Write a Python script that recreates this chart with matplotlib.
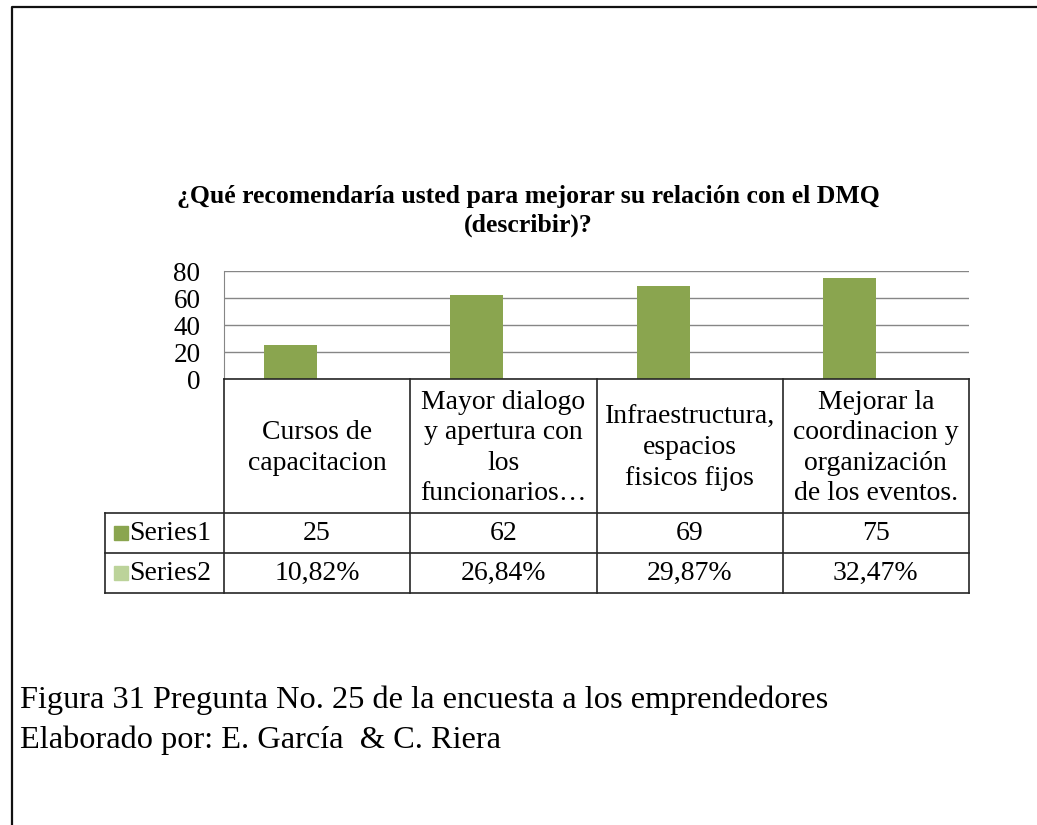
import matplotlib
matplotlib.use("Agg")
import matplotlib.pyplot as plt
from matplotlib.lines import Line2D
from matplotlib.patches import Rectangle

plt.rcParams['font.family'] = ['Liberation Serif', 'DejaVu Serif']

# data
categories = ["Cursos de\ncapacitacion",
              "Mayor dialogo\ny apertura con\nlos\nfuncionarios…",
              "Infraestructura,\nespacios\nfisicos fijos",
              "Mejorar la\ncoordinacion y\norganización\nde los eventos."]
series1 = [25, 62, 69, 75]
series2 = [10.82, 26.84, 29.87, 32.47]   # percent, plotted as fractions
series_names = ["Series1", "Series2"]
yticks = [0, 20, 40, 60, 80]
title = "¿Qué recomendaría usted para mejorar su relación con el DMQ\n(describir)?"
caption1 = "Figura 31 Pregunta No. 25 de la encuesta a los emprendedores"
caption2 = "Elaborado por: E. García  & C. Riera"

c1 = '#8aa54f'
c2 = '#bcd39a'
W, H = 1037, 825
fig = plt.figure(figsize=(W / 100, H / 100), dpi=100)

def fx(x): return x / W
def fy(y): return 1 - y / H

# page border (top and left only visible)
fig.add_artist(Line2D([fx(12), fx(12), fx(W)], [fy(H), fy(6.5), fy(6.5)],
                      transform=fig.transFigure, color='#111111', lw=1.6))

# chart area
L, R, T, B = 224, 969, 271, 379
ax = fig.add_axes([fx(L), fy(B), fx(R - L), (B - T) / H])
n = len(categories)
bw = 0.285
xs = [i + 0.5 for i in range(n)]
ax.bar([x - bw / 2 for x in xs], series1, width=bw, color=c1, zorder=3)
ax.bar([x + bw / 2 for x in xs], [v / 100 for v in series2], width=bw, color=c2, zorder=3)
ax.set_xlim(0, n)
ax.set_ylim(0, 80)
ax.set_yticks(yticks)
ax.set_xticks([])
ax.yaxis.grid(True, color='#868686', lw=1.0)
ax.set_axisbelow(True)
for s in ['top', 'right', 'bottom']:
    ax.spines[s].set_visible(False)
ax.spines['left'].set_color('#868686')
ax.tick_params(axis='y', length=0, pad=17, labelsize=19.5)

t1, t2 = title.split("\n")
fig.text(fx(528), fy(196), t1, ha='center', va='center', fontsize=18.5, fontweight='bold')
fig.text(fx(528), fy(225), t2, ha='center', va='center', fontsize=18.5, fontweight='bold')

# data table below the chart
TL, TB = 105, 593
rows = [513, 553, 593]
tab = fig.add_axes([fx(TL), fy(TB), fx(R - TL), (TB - B) / H])
tab.set_xlim(TL, R)
tab.set_ylim(TB, B)
tab.axis('off')
lc = '#262626'
colw = (R - L) / n
edges = [L + i * colw for i in range(n + 1)]
tab.plot([L, R], [B, B], color=lc, lw=1.2, clip_on=False)
for y in rows:
    tab.plot([TL, R], [y, y], color=lc, lw=1.2, clip_on=False)
for x in edges:
    tab.plot([x, x], [B, TB], color=lc, lw=1.2, clip_on=False)
tab.plot([TL, TL], [rows[0], TB], color=lc, lw=1.2, clip_on=False)

fs = 20
for i, cat in enumerate(categories):
    cx = (edges[i] + edges[i + 1]) / 2
    tab.text(cx, (B + rows[0]) / 2 + 2, cat, ha='center', va='center',
             fontsize=fs, linespacing=1.28)
    tab.text(cx, (rows[0] + rows[1]) / 2, str(series1[i]), ha='center',
             va='center', fontsize=fs)
    tab.text(cx, (rows[1] + rows[2]) / 2, f"{series2[i]:.2f}%".replace('.', ','),
             ha='center', va='center', fontsize=fs)

for j, (name, col) in enumerate(zip(series_names, [c1, c2])):
    yc = (rows[j] + rows[j + 1]) / 2
    tab.add_patch(Rectangle((114, yc - 7), 14, 14, color=col, clip_on=False))
    tab.text(129, yc, name, ha='left', va='center', fontsize=fs)

fig.text(fx(20), fy(700), caption1, ha='left', va='center', fontsize=23.3)
fig.text(fx(20), fy(740), caption2, ha='left', va='center', fontsize=23.3)

fig.savefig("out.png", dpi=100, facecolor='white')
